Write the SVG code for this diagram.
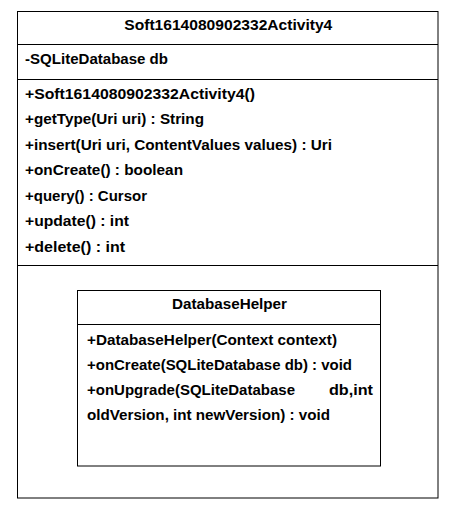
<svg xmlns="http://www.w3.org/2000/svg" width="459" height="510" viewBox="0 0 459 510">
<style>
  .box { fill: #ffffff; stroke: #000000; stroke-width: 1; }
  .line { stroke: #000000; stroke-width: 1; fill: none; }
  text { font-family: "Liberation Sans", Arial, sans-serif; font-weight: bold; font-size: 15px; fill: #000000; }
</style>
<rect x="0" y="0" width="459" height="510" fill="#ffffff"/>
<g id="Soft1614080902332Activity4">
  <rect class="box" x="17.5" y="11.5" width="420.5" height="486.5"/>
  <line class="line" x1="17.5" y1="44.5" x2="438" y2="44.5"/>
  <line class="line" x1="17.5" y1="79.5" x2="438" y2="79.5"/>
  <line class="line" x1="17.5" y1="265.5" x2="438" y2="265.5"/>
  <text x="124.3" y="29.5" textLength="208" lengthAdjust="spacingAndGlyphs">Soft1614080902332Activity4</text>
  <text x="25" y="63.5" textLength="143" lengthAdjust="spacingAndGlyphs">-SQLiteDatabase db</text>
  <text x="25" y="98.5" textLength="230" lengthAdjust="spacingAndGlyphs">+Soft1614080902332Activity4()</text>
  <text x="25" y="124" textLength="179" lengthAdjust="spacingAndGlyphs">+getType(Uri uri) : String</text>
  <text x="25" y="149.5" textLength="307" lengthAdjust="spacingAndGlyphs">+insert(Uri uri, ContentValues values) : Uri</text>
  <text x="25" y="175" textLength="158" lengthAdjust="spacingAndGlyphs">+onCreate() : boolean</text>
  <text x="25" y="200.5" textLength="122" lengthAdjust="spacingAndGlyphs">+query() : Cursor</text>
  <text x="25" y="226" textLength="104" lengthAdjust="spacingAndGlyphs">+update() : int</text>
  <text x="25" y="251.5" textLength="100" lengthAdjust="spacingAndGlyphs">+delete() : int</text>
</g>
<g id="DatabaseHelper">
  <rect class="box" x="77.5" y="290.5" width="303" height="175.5"/>
  <line class="line" x1="77.5" y1="324.5" x2="380.5" y2="324.5"/>
  <text x="172" y="308.5" textLength="115" lengthAdjust="spacingAndGlyphs">DatabaseHelper</text>
  <text x="87" y="345" textLength="250" lengthAdjust="spacingAndGlyphs">+DatabaseHelper(Context context)</text>
  <text x="87" y="370" textLength="265" lengthAdjust="spacingAndGlyphs">+onCreate(SQLiteDatabase db) : void</text>
  <text x="87" y="395" textLength="208" lengthAdjust="spacingAndGlyphs">+onUpgrade(SQLiteDatabase</text>
  <text x="329" y="395" textLength="44" lengthAdjust="spacingAndGlyphs">db,int</text>
  <text x="87" y="420" textLength="243" lengthAdjust="spacingAndGlyphs">oldVersion, int newVersion) : void</text>
</g>
<g id="connectors"></g>
</svg>
